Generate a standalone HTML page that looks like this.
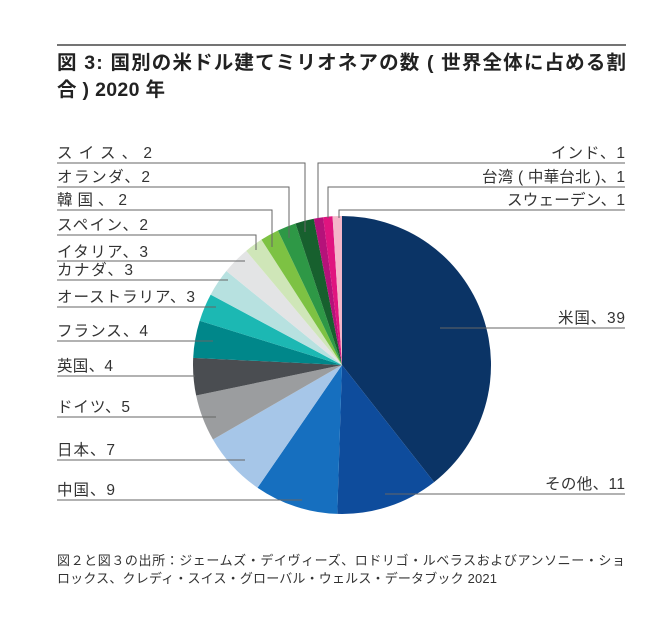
<!DOCTYPE html>
<html><head><meta charset="utf-8"><style>
body{margin:0;background:#fff;}
svg text{font-family:"Liberation Sans","Noto Sans CJK JP",sans-serif;}
</style></head><body>
<svg id="s" width="654" height="627" viewBox="0 0 654 627" xmlns="http://www.w3.org/2000/svg">
<line x1="57" y1="45" x2="626" y2="45" stroke="#222" stroke-width="1.2"/>
<text x="57" y="69" font-size="19.5" font-weight="bold" fill="#222" textLength="569" lengthAdjust="spacing">図 3: 国別の米ドル建てミリオネアの数 ( 世界全体に占める割</text>
<text x="57" y="96" font-size="19.5" font-weight="bold" fill="#222" textLength="108" lengthAdjust="spacing">合 ) 2020 年</text>
<g id="pie"></g>
<g id="lab" font-size="15.5" fill="#333"></g>
<g stroke="#666" stroke-width="1" fill="none" id="ln"></g>
<text x="57" y="565" font-size="13" fill="#333" textLength="568" lengthAdjust="spacing">図２と図３の出所：ジェームズ・デイヴィーズ、ロドリゴ・ルベラスおよびアンソニー・ショ</text>
<text x="57" y="583" font-size="13" fill="#333" textLength="440" lengthAdjust="spacing">ロックス、クレディ・スイス・グローバル・ウェルス・データブック 2021</text>
</svg>
<script>
var cx=342,cy=365,r=149;
var d=[[39,"#0b3466"],[11,"#0e4c9c"],[9,"#166fbf"],[7,"#a6c6e8"],[5,"#9b9d9f"],[4,"#4a4d51"],[4,"#00878a"],[3,"#1cb8b3"],[3,"#b7e1e0"],[3,"#e3e4e5"],[2,"#cfe6b8"],[2,"#7dc243"],[2,"#2e9846"],[2,"#17602e"],[1,"#b5127a"],[1,"#e0147f"],[1,"#f4b6c9"]];
var tot=99,a=0,h="";
function pt(t){return [cx+r*Math.sin(t),cy-r*Math.cos(t)];}
d.forEach(function(s){var a2=a+s[0]/tot*2*Math.PI;var p1=pt(a),p2=pt(a2);
h+='<path d="M'+cx+','+cy+' L'+p1[0].toFixed(2)+','+p1[1].toFixed(2)+' A'+r+','+r+' 0 '+((a2-a)>Math.PI?1:0)+' 1 '+p2[0].toFixed(2)+','+p2[1].toFixed(2)+' Z" fill="'+s[1]+'"/>';a=a2;});
document.getElementById('pie').innerHTML=h;
var L=[["スイス、2",158,163,305,232,95],["オランダ、2",182,187,289,238,93],["韓国、2",205,210,272,247,70],["スペイン、2",230,235,256,250,91],["イタリア、3",257,261,245,0,91],["カナダ、3",275,280,228,0,76],["オーストラリア、3",302,307,216,0,138],["フランス、4",336,341,213,0,91],["英国、4",371,376,195,0,56],["ドイツ、5",412,417,216,0,73],["日本、7",455,460,245,0,58],["中国、9",495,500,302,0,58]];
var R=[["インド、1",158,163,318,218,74],["台湾 ( 中華台北 )、1",182,187,328,218,143],["スウェーデン、1",205,210,339,218,118],["米国、39",323,328,440,0,67],["その他、11",489,494,385,0,80]];
var t="",l="";
L.forEach(function(o){t+='<text x="57" y="'+o[1]+'" textLength="'+o[5]+'" lengthAdjust="spacing">'+o[0]+'</text>';l+='<path d="M57,'+o[2]+' H'+o[3]+(o[4]?' V'+o[4]:'')+'"/>';});
R.forEach(function(o){t+='<text x="'+(625-o[5])+'" y="'+o[1]+'" textLength="'+o[5]+'" lengthAdjust="spacing">'+o[0]+'</text>';l+='<path d="M625,'+o[2]+' H'+o[3]+(o[4]?' V'+o[4]:'')+'"/>';});
document.getElementById('lab').innerHTML=t;document.getElementById('ln').innerHTML=l;
</script>
</body></html>
